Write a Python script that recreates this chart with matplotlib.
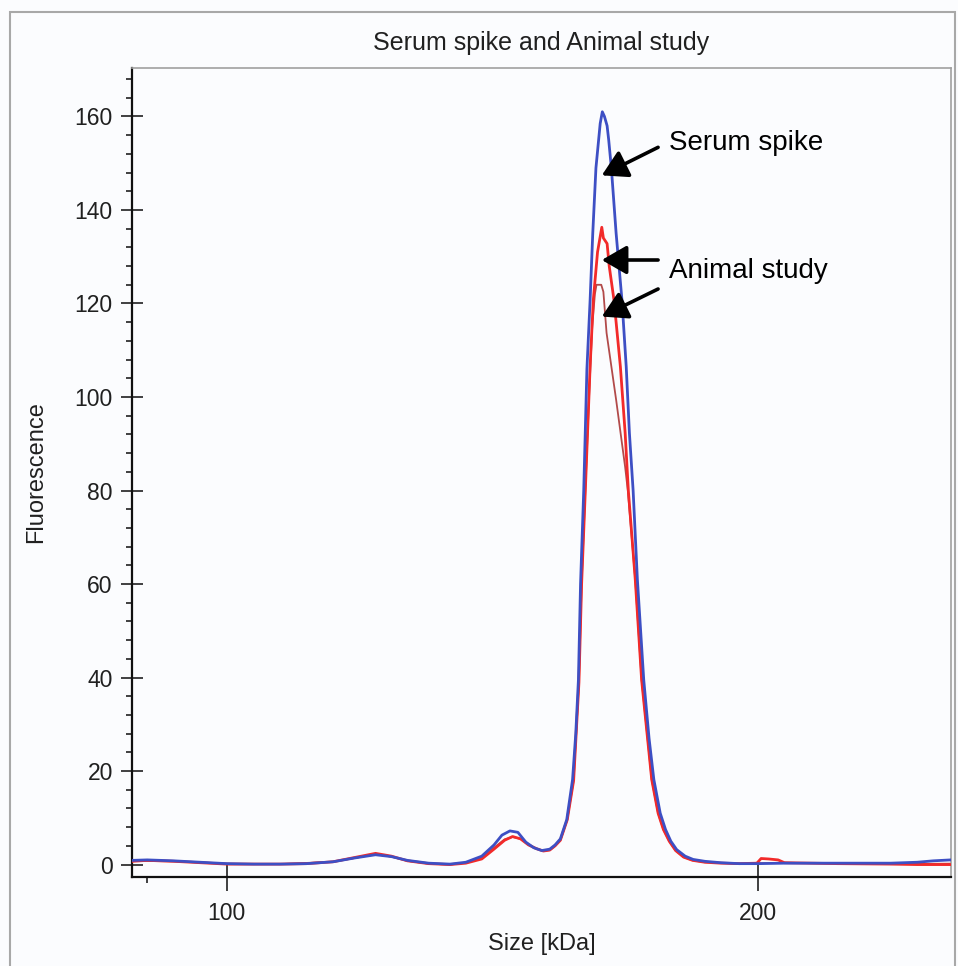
import numpy as np
import matplotlib
matplotlib.use('Agg')
import matplotlib.pyplot as plt
from matplotlib.patches import Rectangle

plt.rcParams['font.family'] = ['Liberation Sans', 'DejaVu Sans']

# serum spike (blue)
blue_size = [82.2, 85, 90, 95, 100, 105, 110, 115, 120, 124, 128, 131, 134, 138, 142, 145, 148,
             150.3, 151.8, 153.3, 154.8, 156.3, 157.8, 159.3, 160.8, 161.8, 162.8, 164.0, 165.1,
             165.7, 166.2, 166.6, 167.2, 167.8, 168.4, 168.9, 169.5, 170.3, 170.7, 171.1, 171.6,
             171.9, 172.4, 173.3, 174.4, 175.2, 175.8, 176.5, 177.3, 178.5, 179.5, 180.4, 181.6,
             182.6, 183.6, 184.7, 186.3, 187.8, 190, 193, 196.5, 200, 205, 215, 225, 230, 233, 236.3]
blue_val = [0.9, 1.0, 0.8, 0.5, 0.2, 0.1, 0.1, 0.2, 0.6, 1.4, 2.1, 1.7, 0.9, 0.3, 0.1, 0.5, 1.8,
            4.2, 6.3, 7.2, 6.9, 4.8, 3.6, 3.0, 3.3, 4.2, 5.5, 9.6, 18.2,
            28, 39.5, 60, 80, 106, 120.7, 135, 149, 158.5, 161, 160, 158,
            155, 149, 135, 120.7, 106.5, 92.3, 80, 61, 39.5, 27, 18.2, 11,
            7.5, 5, 3.2, 1.8, 1.1, 0.7, 0.4, 0.2, 0.2, 0.3, 0.3, 0.3, 0.5, 0.8, 1.0]

# animal study 1 (red)
red_size = [82.2, 85, 90, 95, 100, 105, 110, 115, 120, 124, 128, 131, 134, 138, 142, 145, 148,
            150.3, 152.3, 153.8, 155.3, 156.8, 158.3, 159.6, 160.8, 161.8, 162.8,
            164.1, 165.3, 166.3, 166.8, 167.5, 168.4, 169.0, 169.8, 170.6, 170.9,
            171.6, 172.0, 172.9, 174.1, 175.0, 175.6, 176.9, 178.1, 180.0, 181.2,
            182.2, 183.3, 184.5, 186.0, 187.7, 190, 193, 196.5, 199.8, 200.6,
            202, 203.8, 205, 215, 225, 230, 233, 236.3]
red_val = [0.7, 0.9, 0.7, 0.4, 0.1, 0.1, 0.1, 0.2, 0.6, 1.5, 2.4, 1.8, 0.8, 0.2, 0.0, 0.3, 1.2,
           3.3, 5.2, 6.0, 5.5, 4.2, 3.4, 2.9, 3.1, 4.0, 5.2,
           9.6, 18, 39, 60, 80, 106.5, 120.7, 131, 136.3, 134,
           132.8, 128, 120.7, 106.5, 92.3, 80, 61, 39.5, 18.2, 11,
           7.5, 5, 3, 1.6, 0.9, 0.5, 0.3, 0.2, 0.3, 1.3,
           1.2, 1.0, 0.4, 0.2, 0.1, 0.0, 0.0, 0.0]

# animal study 2 (dark red)
brown_size = [82.2, 90, 100, 110, 120, 124, 128, 131, 134, 138, 142, 145, 148, 150.3, 152.3,
              153.8, 155.3, 156.8, 158.3, 159.6, 160.8, 161.8, 162.8, 164.1, 165.3,
              166.3, 166.8, 167.5, 168.2, 168.8, 169.3, 169.6, 170.5, 170.9, 171.5,
              173.3, 175.0, 175.5, 176.9, 178.1, 180.0, 181.2, 182.2, 183.3, 184.5,
              186.0, 187.7, 190, 196.5, 205, 215, 225, 236.3]
brown_val = [0.8, 0.7, 0.2, 0.1, 0.6, 1.4, 2.2, 1.7, 0.8, 0.2, 0.0, 0.4, 1.4, 3.6, 5.4,
             5.9, 5.5, 4.3, 3.4, 2.9, 3.1, 4.0, 5.2, 9.6, 18,
             39, 60, 80, 100, 115, 122, 124, 124, 122.5, 113.7,
             99.4, 85, 80, 61, 39.5, 18.2, 11, 7.5, 5, 3,
             1.6, 0.9, 0.5, 0.2, 0.4, 0.2, 0.1, 0.2]

bg = '#fbfcfe'
fig = plt.figure(figsize=(9.58, 9.66), dpi=100, facecolor=bg)
ax = fig.add_axes([0.1381, 0.0926, 0.8543, 0.8367], facecolor=bg)

ax.plot(brown_size, brown_val, color='#b24a4a', lw=1.3, zorder=2)
ax.plot(red_size, red_val, color='#f22a2a', lw=2.0, zorder=3)
ax.plot(blue_size, blue_val, color='#3d4fc4', lw=2.0, zorder=4)

ax.set_xlim(82.2, 236.3)
ax.set_ylim(-2.56, 170.3)

ax.set_xticks([100, 200])
ax.set_xticks([85], minor=True)
ax.set_yticks(np.arange(0, 161, 20))
ax.set_yticks(np.arange(0, 169, 4), minor=True)
ax.tick_params(axis='y', which='major', direction='inout', length=16, width=1.2,
               labelsize=16.5, pad=6, colors='#202020')
ax.tick_params(axis='x', which='major', direction='inout', length=20, width=1.2,
               labelsize=16.5, pad=8, colors='#202020')
ax.tick_params(which='minor', direction='out', length=4.5, width=1.2, colors='#202020')

for s in ['left', 'bottom']:
    ax.spines[s].set_color('#101010')
    ax.spines[s].set_linewidth(1.6)
for s in ['top', 'right']:
    ax.spines[s].set_color('#a0a0a0')
    ax.spines[s].set_linewidth(1.2)

ax.set_title('Serum spike and Animal study', fontsize=18, pad=13, color='#202020')
ax.set_xlabel('Size [kDa]', fontsize=17, labelpad=6, color='#202020')
ax.set_ylabel('Fluorescence', fontsize=17, labelpad=20, color='#202020')

arrow = dict(arrowstyle='-|>,head_length=0.45,head_width=0.26', lw=2.6, color='black',
             mutation_scale=34, shrinkA=0, shrinkB=0)
ax.annotate('', xy=(170.6, 147.4), xytext=(181.2, 153.4), arrowprops=arrow, zorder=5)
ax.annotate('', xy=(170.6, 129.3), xytext=(181.2, 129.3), arrowprops=arrow, zorder=5)
ax.annotate('', xy=(170.6, 117.2), xytext=(181.2, 123.1), arrowprops=arrow, zorder=5)
ax.text(183.3, 152.8, 'Serum spike', fontsize=20, va='baseline', ha='left')
ax.text(183.3, 125.4, 'Animal study', fontsize=20, va='baseline', ha='left')

fig.patches.append(Rectangle((10 / 958, -0.1), 945 / 958, 1 - 12 / 966 + 0.1,
                             transform=fig.transFigure, fill=False,
                             edgecolor='#a8a8a8', lw=1.5))

fig.savefig('out.png', dpi=100, facecolor=bg)
